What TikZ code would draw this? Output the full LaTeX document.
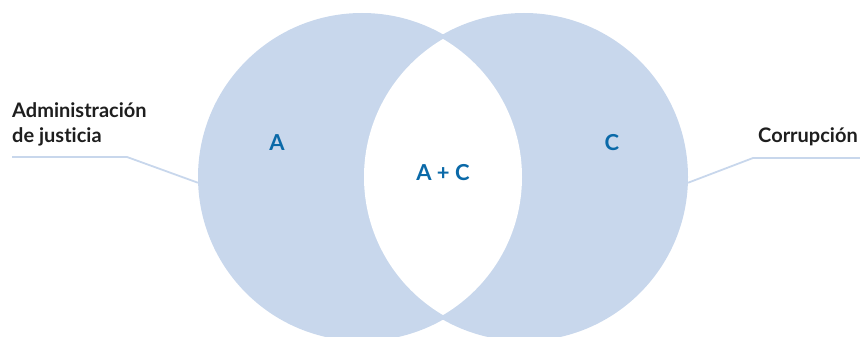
\documentclass[tikz,border=0pt]{standalone}
\usepackage{fontspec}
\setmainfont{Lato}[Ligatures=CommonOff]
\usepackage{xcolor}
\usetikzlibrary{positioning,calc}
\definecolor{azulclaro}{HTML}{C8D7EC}
\definecolor{azulletra}{HTML}{0A69A8}
\definecolor{grisletra}{HTML}{1E1E1E}
\tikzset{
  conjunto/.style={circle, fill=azulclaro, minimum size=328pt, inner sep=0pt},
  rotulo/.style={font=\fontsize{20}{25}\selectfont\bfseries, text=grisletra, inner sep=0pt, align=left},
  letra/.style={font=\fontsize{22}{24}\selectfont\bfseries, text=azulletra, inner sep=0pt},
  guia/.style={draw=azulclaro, line width=1.8pt}
}

\begin{document}
\begin{tikzpicture}[x=1pt,y=-1pt]
\useasboundingbox (0,0) rectangle (860,337);

\node[conjunto] (circA) at (362,177) {};
\node[conjunto] (circC) at (524,177) {};
\begin{scope}
  \clip (362,177) circle (160pt);
  \fill[white] (524,177) circle (160pt);
\end{scope}

\node[letra] (a) at (277,143) {A};
\node[letra] (c) at (612,143) {C};
\node[letra] (ac) at (443,173) {A + C};

\node[rotulo, anchor=north west] (adm) at (12,102) {Administración\\de justicia};
\node[rotulo, anchor=base east] (corr) at (858,142) {Corrupción};

\coordinate (admIni) at (12,157);
\coordinate (admCodo) at (127,157);
\coordinate (corrIni) at (860,158);
\coordinate (corrCodo) at (753,158);

\draw[guia] (admIni) -- (admCodo) -- (circA.182);
\draw[guia] (corrIni) -- (corrCodo) -- (circC.-2);
\end{tikzpicture}
\end{document}
